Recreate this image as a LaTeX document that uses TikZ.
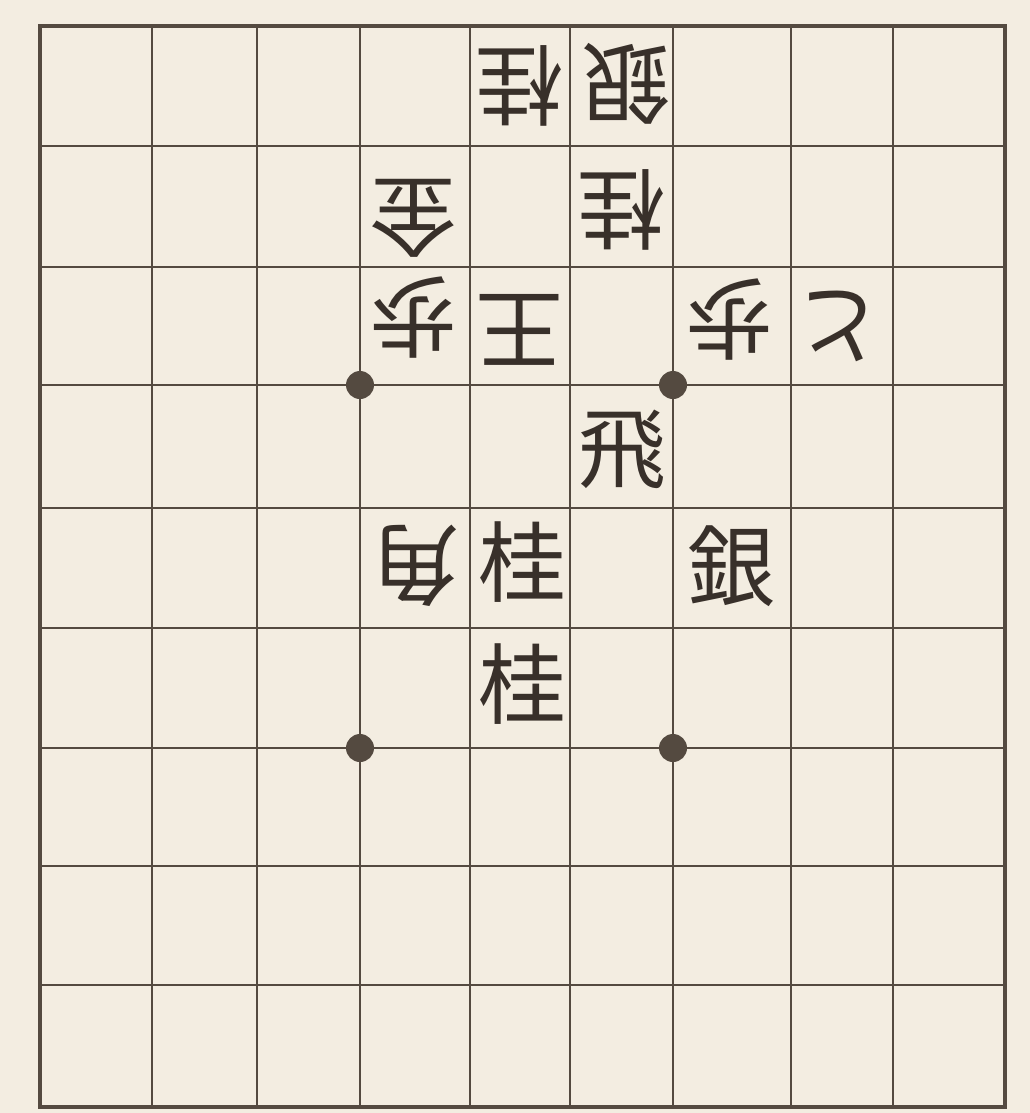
\documentclass[tikz,border=0pt]{standalone}
\usepackage{fontspec}
\newfontfamily\jpfont{Noto Sans CJK JP}
\usepackage{tikz}
\usetikzlibrary{positioning}
\definecolor{paper}{RGB}{243,237,225}
\definecolor{inkline}{RGB}{84,74,64}
\definecolor{inktext}{RGB}{56,48,42}
\tikzset{
  piece/.style={font=\jpfont\fontsize{50}{50}\selectfont, text=inktext,
    inner sep=0pt},
  gote/.style={piece, rotate=180},
  star/.style={circle, fill=inkline, minimum size=0.56cm, inner sep=0pt},
  gridline/.style={line width=1.5pt, color=inkline},
  frameline/.style={line width=2.4pt, color=inkline}
}

\begin{document}
\begin{tikzpicture}[x=0.02cm, y=-0.02cm]

  % Board
  \fill[paper] (0,0) rectangle (1030,1113);
  \useasboundingbox (0,0) rectangle (1030,1113);
  \foreach \x in {152,257,360,470,570,673,791,893}
    \draw[gridline] (\x,26) -- (\x,1107);
  \foreach \y in {146,267,385,508,628,748,866,985}
    \draw[gridline] (40,\y) -- (1005,\y);
  \draw[frameline] (40,26) rectangle (1005,1107);

  % Star points
  \node[star] (s1) at (360,385) {};
  \node[star] (s2) at (673,385) {};
  \node[star] (s3) at (360,748) {};
  \node[star] (s4) at (673,748) {};

  % Nodes
  \node[gote] (kei1) at (520,86) {桂};
  \node[gote] (gin1) at (627,84) {銀};
  \node[gote] (kin) at (414,218) {金};
  \node[gote] (kei2) at (622,210) {桂};
  \node[gote] (fu1) at (414,318) {歩};
  \node[gote] (ou) at (520,330) {王};
  \node[gote] (fu2) at (730,320) {歩};
  \node[gote] (to) at (840,326) {と};
  \node[piece] (hi) at (622,450) {飛};
  \node[gote] (kaku) at (416,566) {角};
  \node[piece] (kei3) at (522,562) {桂};
  \node[piece] (gin2) at (731,566) {銀};
  \node[piece] (kei4) at (522,684) {桂};

\end{tikzpicture}
\end{document}
